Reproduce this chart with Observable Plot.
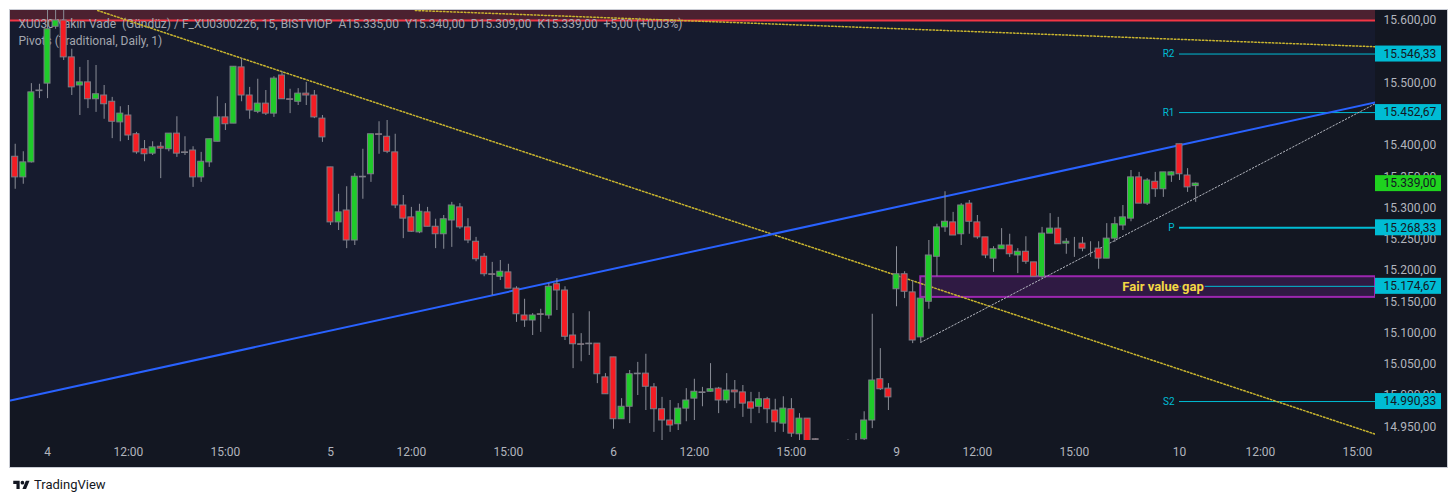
<!DOCTYPE html>
<html>
<head>
<meta charset="utf-8">
<script src="https://cdn.jsdelivr.net/npm/d3@7"></script>
<script src="https://cdn.jsdelivr.net/npm/@observablehq/plot@0.6"></script>
<style>
  html, body { margin: 0; padding: 0; background: #ffffff; width: 1455px; height: 503px; overflow: hidden; }
  #chart { position: absolute; left: 10px; top: 10px; width: 1437px; height: 457px; background: #131722; box-shadow: 0 0 0 1px #c9ccd4; }
  #chart svg { display: block; overflow: visible; }
  #brand { position: absolute; left: 13px; top: 477px; display: flex; align-items: center; gap: 4px; font-family: Roboto, "Noto Sans", sans-serif; font-size: 13px; color: #131722; }
</style>
</head>
<body>
<div id="chart"></div>
<div id="brand"><svg width="17" height="11" viewBox="0 0 36 24"><path d="M14 22H7V11H0V4h14v18zM28 22h-8l7.5-18h8L28 22z" fill="#131722"/><circle cx="20" cy="8" r="4" fill="#131722"/></svg><span>TradingView</span></div>
<script>
// ---- 15-minute bars (bar index 0 = day 4, 09:30) ----
const firstBar = -4;
const open = [
  15382,15349,15373,15488,15499,15590,15600,15541,15496,15501,15474,15480,15470,15437,
  15448,15418,15394,15387,15398,15394,15419,15389,15392,15349,
  15373,15406,15445,15435,15525,15480,15454,15467,15451,15512,
  15474,15470,15483,15480,15443,15365,15277,15296,15248,15350,
  15354,15418,15414,15389,15304,15285,15261,15293,15270,15258,
  15280,15301,15269,15246,15222,15194,15190,15197,15171,15128,
  15120,15130,15128,15178,15168,15096,15082,15083,15083,15029,
  15061,14962,14982,15035,15035,15013,14978,14960,14954,14979,
  14995,15005,15006,15011,14992,15008,15005,14989,14982,14994,
  14976,14955,14978,14938,14963,14930,14925,14912,14908,14918,
  14922,14930,14960,15026,15011,15170,15194,15165,15093,15150,
  15222,15269,15277,15258,15307,15277,15253,15219,15234,15240,
  15224,15230,15213,15190,15259,15267,15243,15245,15243,15235,
  15235,15219,15251,15272,15283,15349,15307,15342,15330,15352,
  15402,15352,15335
];
const high = [
  15402,15390,15499,15498,15625,15625,15625,15554,15525,15536,15528,15496,15477,15462,
  15464,15421,15408,15406,15405,15419,15446,15414,15398,15389,
  15410,15478,15467,15526,15539,15493,15506,15488,15510,15518,
  15490,15491,15501,15488,15448,15365,15322,15334,15355,15394,
  15418,15438,15440,15418,15320,15301,15306,15301,15282,15288,
  15309,15307,15283,15253,15227,15213,15216,15210,15174,15154,
  15131,15138,15179,15187,15174,15131,15099,15134,15083,15035,
  15061,14995,15040,15053,15066,15019,14997,14992,14987,15011,
  15026,15013,15051,15013,15035,15024,15016,15005,15005,14997,
  14994,14998,14995,14971,14963,14931,14927,14920,14922,14929,
  14939,14974,15130,15075,15019,15238,15198,15184,15155,15248,
  15274,15326,15293,15307,15312,15288,15253,15238,15267,15258,
  15235,15254,15213,15269,15291,15285,15251,15253,15253,15246,
  15246,15275,15285,15304,15360,15357,15347,15357,15357,15358,
  15402,15363,15340
];
const low = [
  15330,15338,15372,15475,15475,15586,15536,15480,15448,15459,15453,15442,15411,15406,
  15408,15386,15374,15384,15347,15390,15381,15384,15333,15341,
  15365,15406,15424,15435,15470,15442,15451,15448,15445,15474,
  15451,15464,15464,15443,15405,15272,15264,15235,15240,15314,
  15341,15386,15387,15299,15251,15261,15259,15270,15235,15234,
  15237,15266,15243,15214,15190,15160,15184,15171,15117,15109,
  15096,15101,15122,15136,15088,15043,15054,15064,15019,15002,
  14946,14962,14955,15000,14976,14941,14928,14941,14944,14958,
  14960,14982,15005,14971,14987,14979,14965,14955,14971,14955,
  14941,14941,14933,14928,14915,14900,14905,14895,14900,14905,
  14910,14925,14947,15008,14976,15142,15155,15083,15085,15138,
  15190,15261,15256,15240,15258,15250,15219,15197,15234,15221,
  15195,15210,15190,15187,15259,15242,15226,15221,15230,15221,
  15202,15219,15245,15264,15278,15307,15304,15317,15317,15341,
  15344,15325,15309
];
const close = [
  15349,15373,15485,15487,15586,15600,15541,15493,15501,15474,15482,15466,15438,15451,
  15416,15389,15386,15397,15395,15419,15387,15388,15349,15374,
  15410,15445,15434,15526,15480,15456,15467,15451,15507,15474,
  15473,15483,15480,15445,15413,15277,15293,15248,15350,15349,
  15418,15417,15390,15304,15283,15262,15294,15270,15258,15282,
  15304,15269,15248,15218,15194,15193,15198,15171,15130,15120,
  15128,15129,15174,15168,15094,15082,15081,15082,15034,15002,
  14962,14982,15034,15034,15014,14978,14960,14952,14979,14992,
  15006,15004,15010,14992,15008,15005,14987,14979,14994,14978,
  14957,14979,14939,14963,14925,14929,14912,14908,14918,14922,
  14926,14960,15024,15010,14997,15194,15166,15088,15155,15224,
  15269,15278,15256,15304,15278,15253,15224,15234,15240,15226,
  15230,15214,15190,15259,15267,15242,15246,15245,15235,15235,
  15219,15251,15274,15285,15349,15307,15344,15330,15357,15357,
  15354,15333,15339
];

// ---- time axis ticks ----
const xTickIdx    = [0, 10, 22, 35, 45, 57, 70, 80, 92, 105, 115, 127, 140, 150, 162];
const xTickLabels = ["4", "12:00", "15:00", "5", "12:00", "15:00", "6", "12:00", "15:00", "9", "12:00", "15:00", "10", "12:00", "15:00"];

// ---- price axis ticks ----
const yTicks = [14950, 15000, 15050, 15100, 15150, 15200, 15250, 15300, 15350, 15400, 15450, 15500, 15550, 15600];

// ---- drawings ----
const blueIdx = [-4.58, 164.24],  bluePrice = [14992, 15469];
const yel1Idx = [6.2, 164.24],    yel1Price = [15616, 14938];
const yel2Idx = [45.5, 164.24],   yel2Price = [15616, 15558];
const grayIdx = [108, 164.24],    grayPrice = [15085, 15467];
const redLevel = 15600;
const fvgStart = 108, fvgLow = 15157, fvgHigh = 15190, fvgLabel = "Fair value gap", fvgLabelIdx = 143;

// ---- pivots (Traditional, Daily) ----
const pivotNames  = ["R2", "R1", "P", "S1", "S2"];
const pivotValues = [15546.33, 15452.67, 15268.33, 15174.67, 14990.33];
const pivotStart  = 140;
const lastPrice   = 15339;

const headerLines = [
  "XU030 Yakın Vade\u00a0 (Gündüz) / F_XU0300226, 15, BISTVIOP\u00a0 A15.335,00\u00a0 Y15.340,00\u00a0 D15.309,00\u00a0 K15.339,00\u00a0 +5,00 (+0,03%)",
  "Pivots (Traditional, Daily, 1)"
];

// ---- build tables ----
const bars = open.map((o, k) => ({i: firstBar + k, o, h: high[k], l: low[k], c: close[k]}));
const pts = (xs, ys) => xs.map((x, k) => ({i: x, p: ys[k]}));
const blue = pts(blueIdx, bluePrice), yel1 = pts(yel1Idx, yel1Price), yel2 = pts(yel2Idx, yel2Price), gray = pts(grayIdx, grayPrice);
const pivots = pivotNames.map((n, k) => ({n, v: pivotValues[k]}));
const X0 = -4.58, X1 = 164.24, Y0 = 14928, Y1 = 15616;

const fmt = d3.formatLocale({decimal: ",", thousands: ".", grouping: [3], currency: ["", ""]}).format(",.2f");
const labelOf = new Map(xTickIdx.map((d, k) => [d, xTickLabels[k]]));

const GREEN = "#1fcb2a", RED = "#f51d24", CYAN = "#00bcd4";

const plot = Plot.plot({
  width: 1437, height: 457,
  marginLeft: 0, marginRight: 72, marginTop: 0, marginBottom: 27,
  style: {background: "transparent", color: "#b2b5be", fontFamily: "Roboto, 'Noto Sans', sans-serif", fontSize: "12px", overflow: "visible"},
  x: {type: "linear", domain: [X0, X1], axis: null},
  y: {type: "linear", domain: [Y0, Y1], axis: null},
  marks: [
    // tinted region above the blue trend line
    Plot.area(blue, {x1: "i", y1: "p", y2: () => Y1, fill: "#161b2e", clip: true}),
    // zone above 15.600
    Plot.rect([{lo: redLevel, hi: Y1 + 50}], {y1: "lo", y2: "hi", fill: "#4b2130", clip: true}),
    Plot.ruleY([redLevel], {stroke: "#f23645", strokeWidth: 2}),
    // header legend
    Plot.text([headerLines[0]], {frameAnchor: "top-left", dx: 8, dy: 14, text: d => d, textAnchor: "start", lineAnchor: "middle", fill: "#a3a6af", fontSize: 12}),
    Plot.text([headerLines[1]], {frameAnchor: "top-left", dx: 8, dy: 31, text: d => d, textAnchor: "start", lineAnchor: "middle", fill: "#a3a6af", fontSize: 12}),
    // fair value gap box
    Plot.rect([{s: fvgStart, lo: fvgLow, hi: fvgHigh}], {x1: "s", x2: () => X1, y1: "lo", y2: "hi", fill: "#321b46", fillOpacity: 0.92, stroke: "#9c27b0", strokeWidth: 2, clip: true}),
    // pivot levels
    Plot.ruleY(pivots, {y: "v", x1: () => pivotStart, x2: () => X1, stroke: CYAN, strokeWidth: d => d.n === "P" ? 2 : 1}),
    Plot.text(pivots.filter(d => d.n !== "S1"), {x: () => pivotStart, y: "v", text: "n", dx: -5, textAnchor: "end", fill: CYAN, fontSize: 10}),
    // trend lines
    Plot.line(yel1, {x: "i", y: "p", stroke: "#c9b52f", strokeWidth: 1.5, strokeDasharray: "1.5,2", clip: true}),
    Plot.line(yel2, {x: "i", y: "p", stroke: "#c9b52f", strokeWidth: 1.5, strokeDasharray: "1.5,2", clip: true}),
    Plot.line(gray, {x: "i", y: "p", stroke: "#b2b5be", strokeWidth: 1, strokeDasharray: "1.5,2", clip: true}),
    Plot.line(blue, {x: "i", y: "p", stroke: "#2962ff", strokeWidth: 2, clip: true}),
    // candles
    Plot.ruleX(bars, {x: "i", y1: "l", y2: "h", stroke: "#8a8d96", strokeWidth: 1, clip: true}),
    Plot.rect(bars, {x1: d => d.i - 0.37, x2: d => d.i + 0.37, y1: "o", y2: "c", fill: d => d.c >= d.o ? GREEN : RED, stroke: "#7b7e87", strokeWidth: 1, clip: true}),
    // FVG label (drawn over the S1 line)
    Plot.text([fvgLabel], {x: () => fvgLabelIdx, y: () => (fvgLow + fvgHigh) / 2, text: d => d, textAnchor: "end", fill: "#f4d843", fontSize: 13, fontWeight: "bold", stroke: "#321b46", strokeWidth: 3, paintOrder: "stroke"}),
    // axes
    Plot.axisY({ticks: yTicks, anchor: "right", tickSize: 0, tickPadding: 8, tickFormat: fmt, fontSize: 12, fill: "#b2b5be"}),
    Plot.axisX({ticks: xTickIdx, anchor: "bottom", tickSize: 0, tickPadding: 7, tickFormat: d => labelOf.get(d), fontSize: 12, fill: "#b2b5be"}),
    // price badges on the axis
    Plot.rect(pivots, {x1: () => X1, x2: () => X1, y1: "v", y2: "v", insetLeft: 0, insetRight: -66, insetTop: -8, insetBottom: -8, fill: CYAN}),
    Plot.text(pivots, {x: () => X1, y: "v", text: d => fmt(d.v), dx: 8, textAnchor: "start", fill: "#131722", fontSize: 12}),
    Plot.rect([lastPrice], {x1: () => X1, x2: () => X1, y1: d => d, y2: d => d, insetLeft: 0, insetRight: -66, insetTop: -8, insetBottom: -8, fill: "#1fd21f"}),
    Plot.text([lastPrice], {x: () => X1, y: d => d, text: d => fmt(d), dx: 8, textAnchor: "start", fill: "#131722", fontSize: 12})
  ]
});
document.getElementById("chart").appendChild(plot);
</script>
</body>
</html>
